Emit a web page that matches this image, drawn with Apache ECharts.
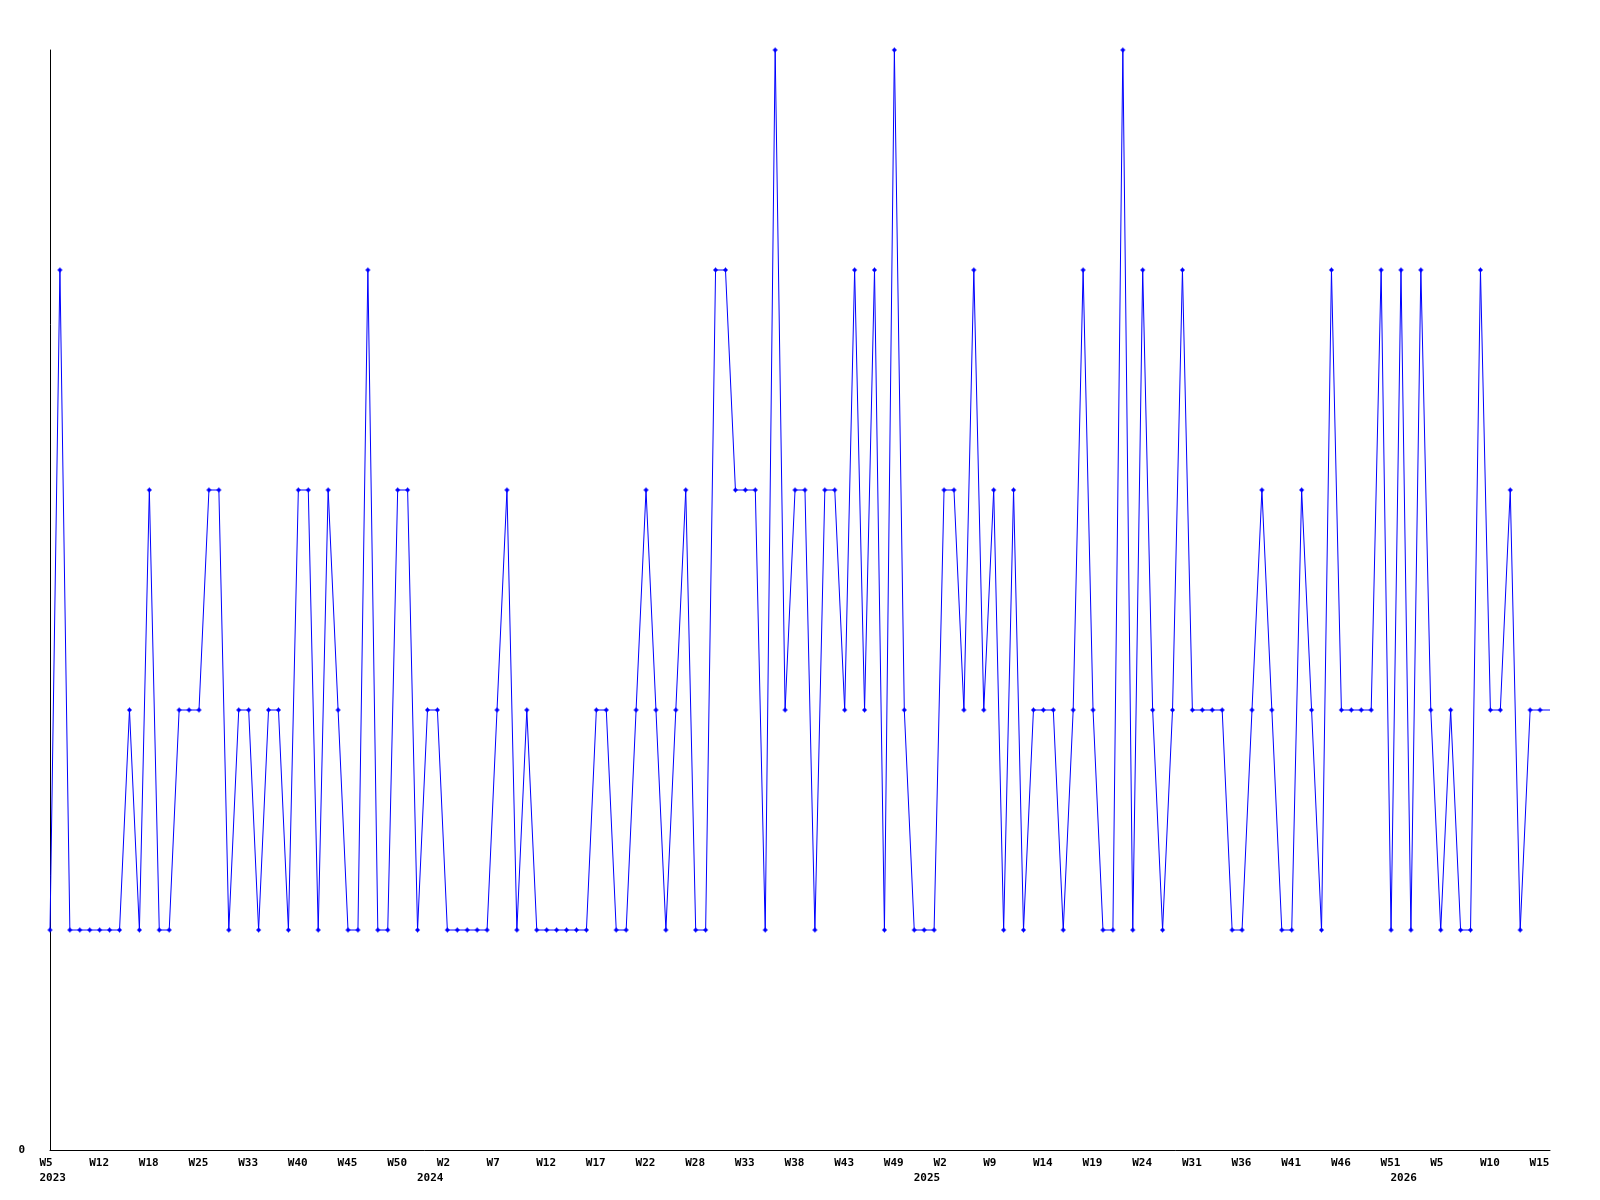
<!DOCTYPE html>
<html>
<head>
<meta charset="utf-8">
<script src="https://cdn.jsdelivr.net/npm/echarts@6/dist/echarts.min.js"></script>
<style>
html,body{margin:0;padding:0;background:#fff;}
#chart{width:1600px;height:1200px;}
</style>
</head>
<body>
<div id="chart"></div>
<script>
var values = [
  1,4,1,1,1,1,1,1,2,1, 3,1,1,2,2,2,3,3,1,2, 2,1,2,2,1,3,3,1,3,2,
  1,1,4,1,1,3,3,1,2,2, 1,1,1,1,1,2,3,1,2,1, 1,1,1,1,1,2,2,1,1,2,
  3,2,1,2,3,1,1,4,4,3, 3,3,1,5,2,3,3,1,3,3, 2,4,2,4,1,5,2,1,1,1,
  3,3,2,4,2,3,1,3,1,2, 2,2,1,2,4,2,1,1,5,1, 4,2,1,2,4,2,2,2,2,1,
  1,2,3,2,1,1,3,2,1,4, 2,2,2,2,4,1,4,1,4,2, 1,2,1,1,4,2,2,3,1,2,
  2,2
];
// Week tick labels, shown on every 5th sample
var tickLabels = ['W5','W12','W18','W25','W33','W40','W45','W50','W2','W7',
  'W12','W17','W22','W28','W33','W38','W43','W49','W2','W9',
  'W14','W19','W24','W31','W36','W41','W46','W51','W5','W10','W15'];
// Year labels at the first sample of each year
var yearSamples = [0, 38, 88, 136];
var yearLabels = ['2023', '2024', '2025', '2026'];

var categories = values.map(function (v, i) { return i; });
var yearAt = {};
yearSamples.forEach(function (s, k) { yearAt[s] = yearLabels[k]; });

var plus = 'path://M2,0H3V1H4V2H5V3H4V4H3V5H2V4H1V3H0V2H1V1H2Z';
var font = 'DejaVu Sans Mono';

var chart = echarts.init(document.getElementById('chart'), null, {renderer: 'canvas'});
chart.setOption({
  animation: false,
  backgroundColor: '#ffffff',
  grid: {left: 50, right: 50, top: 50, bottom: 50, containLabel: false},
  xAxis: {
    type: 'category',
    boundaryGap: false,
    data: categories,
    axisLine: {show: true, lineStyle: {color: '#000', width: 1}},
    axisTick: {show: false},
    splitLine: {show: false},
    axisLabel: {
      show: true,
      interval: function (i) { return i % 5 === 0 || yearAt[i] !== undefined; },
      formatter: function (v, i) {
        var w = (i % 5 === 0) ? tickLabels[i / 5] : '';
        var y = yearAt[i] || '';
        return w + '\n' + y;
      },
      align: 'left',
      verticalAlign: 'top',
      padding: [0, 0, 0, -10.5],
      margin: 6,
      lineHeight: 15,
      color: '#000',
      fontFamily: font,
      fontWeight: 'bold',
      fontSize: 11,
      hideOverlap: false
    }
  },
  yAxis: {
    type: 'value',
    min: 0,
    max: 5,
    interval: 5,
    axisLine: {show: true, lineStyle: {color: '#000', width: 1}},
    axisTick: {show: false},
    splitLine: {show: false},
    axisLabel: {
      formatter: function (v) { return v === 0 ? '0' : ''; },
      margin: 25,
      color: '#000',
      fontFamily: font,
      fontWeight: 'bold',
      fontSize: 11
    }
  },
  series: [{
    type: 'line',
    data: values,
    symbol: function (v, p) { return p.dataIndex === values.length - 1 ? 'none' : plus; },
    symbolSize: 5,
    showAllSymbol: true,
    lineStyle: {color: '#0000ff', width: 1},
    itemStyle: {color: '#0000ff'},
    clip: false
  }]
});
</script>
</body>
</html>
